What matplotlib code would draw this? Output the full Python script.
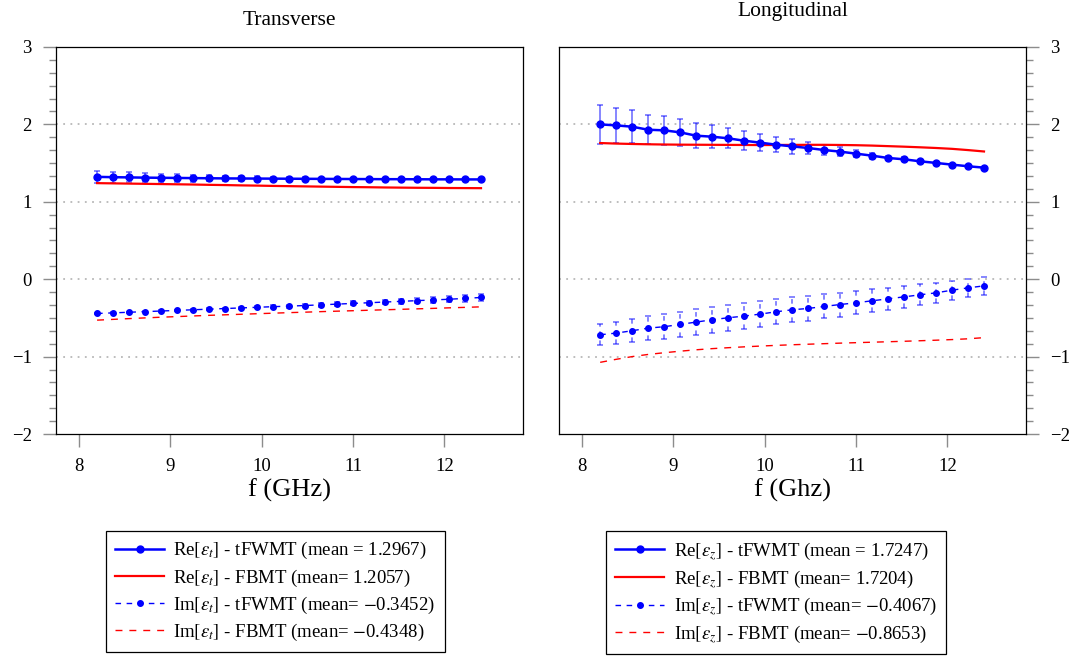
import matplotlib
matplotlib.use("Agg")
import matplotlib.pyplot as plt
from matplotlib.ticker import MultipleLocator
import numpy as np

# frequency points (GHz)
FREQ = [8.2, 8.375, 8.55, 8.725, 8.9, 9.075, 9.25, 9.425, 9.6, 9.775,
        9.95, 10.125, 10.3, 10.475, 10.65, 10.825, 11.0, 11.175, 11.35,
        11.525, 11.7, 11.875, 12.05, 12.225, 12.4]

# --- Transverse ---
RE_T_TFWMT = [1.322, 1.318, 1.315, 1.312, 1.310, 1.308, 1.306, 1.304, 1.302,
              1.301, 1.300, 1.299, 1.298, 1.297, 1.296, 1.295, 1.294, 1.293,
              1.292, 1.292, 1.291, 1.290, 1.290, 1.289, 1.289]
RE_T_TFWMT_ERR = [0.075, 0.07, 0.065, 0.06, 0.055, 0.05, 0.045, 0.04, 0.036,
                  0.032, 0.028, 0.024, 0.02, 0.017, 0.014, 0.012, 0.01, 0.008,
                  0.007, 0.006, 0.005, 0.004, 0.004, 0.003, 0.003]
RE_T_FBMT = [1.241, 1.238, 1.235, 1.232, 1.229, 1.226, 1.223, 1.219, 1.216,
             1.212, 1.209, 1.205, 1.202, 1.199, 1.196, 1.193, 1.190, 1.188,
             1.185, 1.183, 1.181, 1.180, 1.178, 1.177, 1.176]
IM_T_TFWMT = [-0.443, -0.435, -0.427, -0.419, -0.411, -0.403, -0.395, -0.387,
              -0.379, -0.371, -0.363, -0.355, -0.348, -0.340, -0.331, -0.322,
              -0.313, -0.304, -0.295, -0.286, -0.277, -0.268, -0.259, -0.248,
              -0.236]
IM_T_TFWMT_ERR = [0.005, 0.005, 0.006, 0.007, 0.008, 0.009, 0.01, 0.011,
                  0.012, 0.013, 0.014, 0.016, 0.018, 0.02, 0.022, 0.024,
                  0.026, 0.028, 0.03, 0.032, 0.034, 0.036, 0.04, 0.043, 0.047]
IM_T_FBMT = [-0.529, -0.519, -0.509, -0.500, -0.491, -0.483, -0.475, -0.467,
             -0.460, -0.453, -0.446, -0.439, -0.432, -0.426, -0.419, -0.413,
             -0.407, -0.401, -0.395, -0.389, -0.383, -0.377, -0.370, -0.364,
             -0.357]

# --- Longitudinal ---
RE_Z_TFWMT = [2.000, 1.987, 1.970, 1.931, 1.923, 1.897, 1.854, 1.841, 1.820,
              1.789, 1.764, 1.738, 1.716, 1.695, 1.669, 1.648, 1.622, 1.596,
              1.566, 1.549, 1.523, 1.502, 1.480, 1.459, 1.441]
RE_Z_TFWMT_ERR = [0.25, 0.23, 0.21, 0.19, 0.185, 0.17, 0.16, 0.145, 0.13,
                  0.12, 0.11, 0.10, 0.093, 0.082, 0.065, 0.055, 0.047, 0.04,
                  0.03, 0.025, 0.02, 0.015, 0.01, 0.008, 0.005]
RE_Z_FBMT = [1.759, 1.752, 1.747, 1.743, 1.740, 1.738, 1.737, 1.736, 1.735,
             1.734, 1.733, 1.734, 1.735, 1.736, 1.736, 1.734, 1.731, 1.726,
             1.719, 1.712, 1.704, 1.695, 1.684, 1.668, 1.650]
IM_Z_TFWMT = [-0.718, -0.696, -0.666, -0.632, -0.614, -0.584, -0.554, -0.524,
              -0.498, -0.477, -0.451, -0.421, -0.395, -0.378, -0.352, -0.327,
              -0.305, -0.279, -0.254, -0.228, -0.202, -0.176, -0.142, -0.112,
              -0.086]
IM_Z_TFWMT_ERR = [0.135, 0.145, 0.15, 0.155, 0.16, 0.165, 0.17, 0.17, 0.17,
                  0.165, 0.165, 0.16, 0.16, 0.16, 0.155, 0.155, 0.15, 0.15,
                  0.145, 0.14, 0.135, 0.13, 0.125, 0.12, 0.12]
IM_Z_FBMT = [-1.074, -1.035, -1.0, -0.972, -0.95, -0.93, -0.912, -0.897,
             -0.885, -0.874, -0.864, -0.855, -0.847, -0.840, -0.833, -0.826,
             -0.820, -0.814, -0.808, -0.802, -0.795, -0.788, -0.78, -0.77,
             -0.755]

LABELS_T = [r"Re$[\varepsilon_t]$ - tFWMT (mean = 1.2967)",
            r"Re$[\varepsilon_t]$ - FBMT (mean= 1.2057)",
            r"Im$[\varepsilon_t]$ - tFWMT (mean= $-$0.3452)",
            r"Im$[\varepsilon_t]$ - FBMT (mean= $-$0.4348)"]
LABELS_Z = [r"Re$[\varepsilon_z]$ - tFWMT (mean = 1.7247)",
            r"Re$[\varepsilon_z]$ - FBMT (mean= 1.7204)",
            r"Im$[\varepsilon_z]$ - tFWMT (mean= $-$0.4067)",
            r"Im$[\varepsilon_z]$ - FBMT (mean= $-$0.8653)"]

plt.rcParams["font.family"] = ["Liberation Serif", "DejaVu Serif"]
plt.rcParams["mathtext.fontset"] = "stix"

BLUE = "#0000ff"
RED = "#ff0000"
GRID = "0.72"
TICK = "0.55"


def draw_panel(ax, re_tf, re_tf_err, re_fb, im_tf, im_tf_err, im_fb, labels):
    ax.set_xlim(7.75, 12.86)
    ax.set_ylim(-2, 3)
    for yv in [-1, 0, 1, 2, 3]:
        ax.axhline(yv, color=GRID, lw=1.3, linestyle=(0, (1, 3)), zorder=0)

    # error bars
    ax.errorbar(FREQ, re_tf, yerr=re_tf_err, fmt="none", ecolor=BLUE,
                elinewidth=1.1, capsize=2.5, capthick=1.1, alpha=0.6, zorder=2)
    eb = ax.errorbar(FREQ, im_tf, yerr=im_tf_err, fmt="none", ecolor=BLUE,
                     elinewidth=1.1, capsize=2.5, capthick=1.1, alpha=0.6,
                     zorder=2)
    eb[2][0].set_linestyle((0, (3, 3)))

    ax.plot(FREQ, re_tf, color=BLUE, lw=1.8, marker="o", ms=5,
            label=labels[0], zorder=4)
    ax.plot(FREQ, re_fb, color=RED, lw=1.6, label=labels[1], zorder=3)
    ax.plot(FREQ, im_tf, color=BLUE, lw=1.0, linestyle=(0, (4, 4)),
            marker="o", ms=4, label=labels[2], zorder=4)
    ax.plot(FREQ, im_fb, color=RED, lw=1.0, linestyle=(0, (5, 5)),
            label=labels[3], zorder=3)

    ax.xaxis.set_major_locator(MultipleLocator(1))
    ax.yaxis.set_major_locator(MultipleLocator(1))
    ax.yaxis.set_minor_locator(MultipleLocator(1 / 6))
    ax.tick_params(axis="both", which="major", direction="out", length=9.5,
                   width=1.0, color=TICK, labelsize=13.5, pad=8)
    ax.tick_params(axis="y", which="minor", direction="out", length=5,
                   width=1.0, color=TICK)
    for sp in ax.spines.values():
        sp.set_linewidth(0.9)


fig = plt.figure(figsize=(10.78, 6.57), dpi=100)
ax1 = fig.add_axes([0.0519, 0.3394, 0.4333, 0.5891])
ax2 = fig.add_axes([0.5186, 0.3394, 0.4332, 0.5891])

draw_panel(ax1, RE_T_TFWMT, RE_T_TFWMT_ERR, RE_T_FBMT,
           IM_T_TFWMT, IM_T_TFWMT_ERR, IM_T_FBMT, LABELS_T)
draw_panel(ax2, RE_Z_TFWMT, RE_Z_TFWMT_ERR, RE_Z_FBMT,
           IM_Z_TFWMT, IM_Z_TFWMT_ERR, IM_Z_FBMT, LABELS_Z)

ax2.yaxis.tick_right()
ax2.yaxis.set_label_position("right")
ax2.tick_params(axis="y", which="both", left=False, right=True)

ax1.text(0.5, 1.058, "Transverse", transform=ax1.transAxes, ha="center",
         va="baseline", fontsize=15.5)
ax2.text(0.5, 1.08, "Longitudinal", transform=ax2.transAxes, ha="center",
         va="baseline", fontsize=15.5)

ax1.set_xlabel("f (GHz)", fontsize=19, labelpad=2)
ax2.set_xlabel("f (Ghz)", fontsize=19, labelpad=2)

for ax, x0 in [(ax1, 0.0983), (ax2, 0.5622)]:
    leg = ax.legend(loc="upper left", bbox_to_anchor=(x0, 0.1918),
                    bbox_transform=fig.transFigure, borderaxespad=0,
                    fontsize=13.5, frameon=True, fancybox=False,
                    edgecolor="black", framealpha=1, handlelength=2.6,
                    labelspacing=0.32, handletextpad=0.5, borderpad=0.5)
    leg.get_frame().set_linewidth(0.9)

fig.savefig("out.png", dpi=100)
